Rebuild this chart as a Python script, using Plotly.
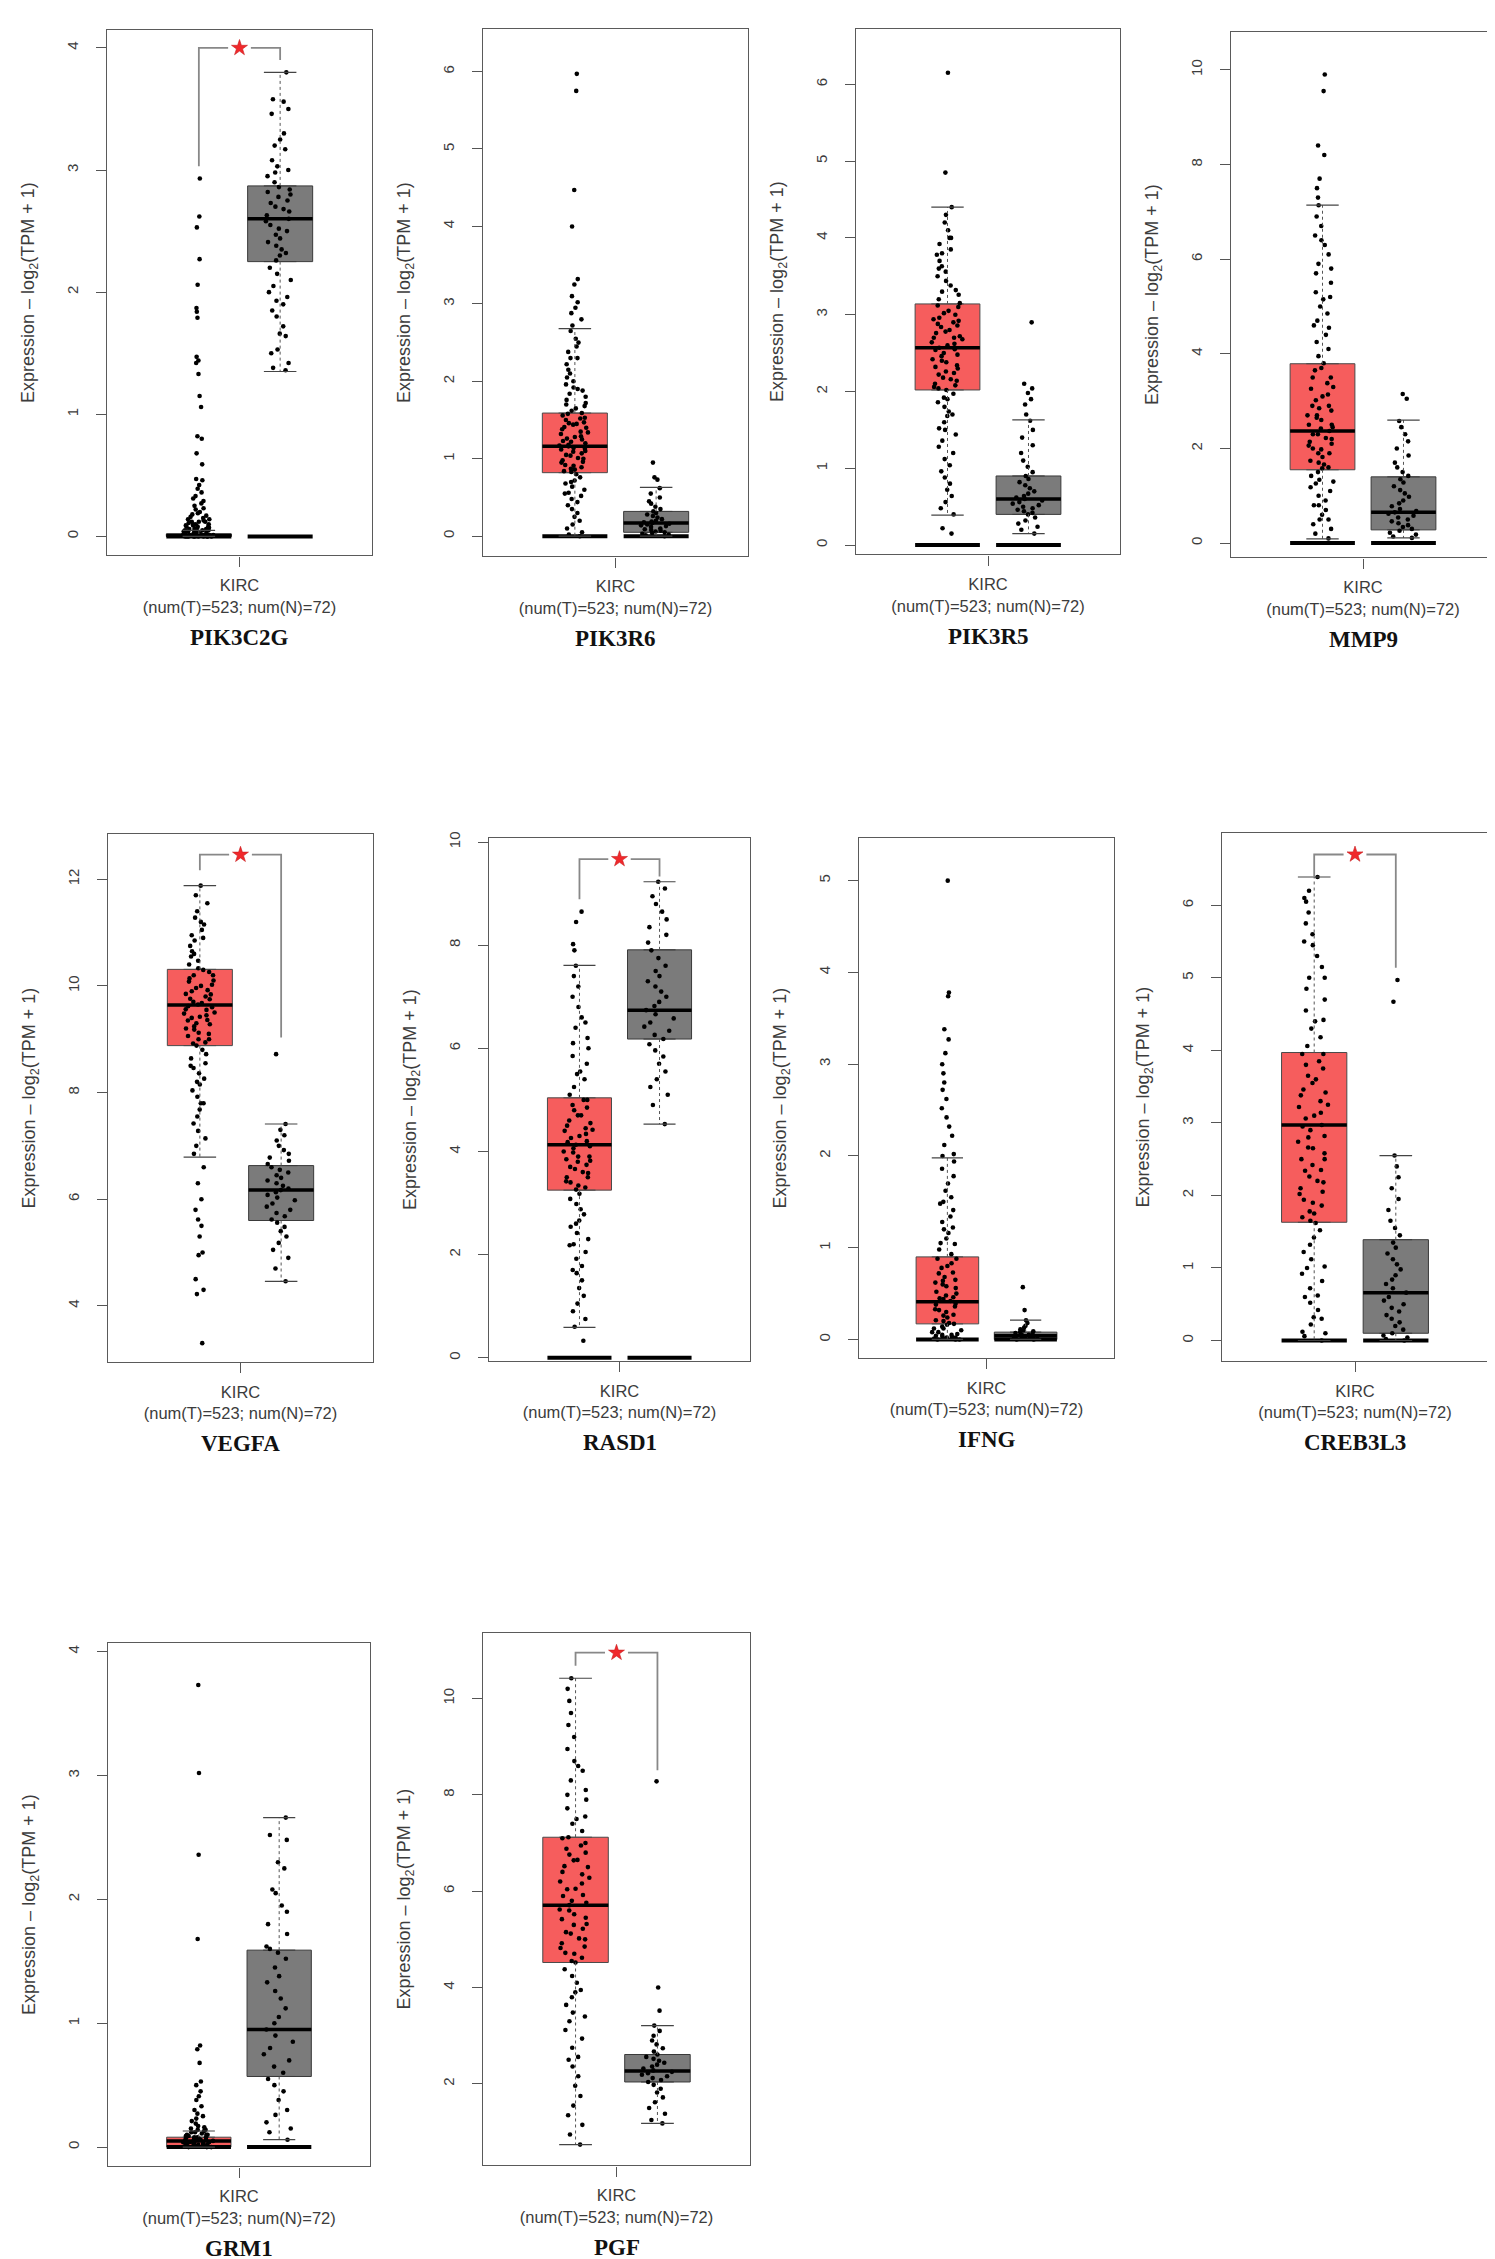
import plotly.graph_objects as go

# --- DATA ---
genes = ["PIK3C2G", "PIK3R6", "PIK3R5", "MMP9", "VEGFA",
         "RASD1", "IFNG", "CREB3L3", "GRM1", "PGF"]
x_label = "KIRC<br>(num(T)=523; num(N)=72)"

# y-axis ranges and ticks per panel
y_ranges = [[-0.155, 4.147], [-0.26, 6.55], [-0.12, 6.72], [-0.3, 10.8], [2.95, 12.84],
            [-0.06, 10.07], [-0.2, 5.46], [-0.28, 6.99], [-0.155, 4.07], [0.31, 11.36]]
y_ticks = [[0, 1, 2, 3, 4], [0, 1, 2, 3, 4, 5, 6], [0, 1, 2, 3, 4, 5, 6], [0, 2, 4, 6, 8, 10],
           [4, 6, 8, 10, 12], [0, 2, 4, 6, 8, 10], [0, 1, 2, 3, 4, 5], [0, 1, 2, 3, 4, 5, 6],
           [0, 1, 2, 3, 4], [2, 4, 6, 8, 10]]

# tumour (T) box stats
t_q1 = [0.0, 0.82, 2.02, 1.55, 8.88, 3.25, 0.17, 1.63, 0.0, 4.52]
t_med = [0.01, 1.16, 2.57, 2.37, 9.64, 4.13, 0.41, 2.97, 0.05, 5.71]
t_q3 = [0.02, 1.59, 3.14, 3.79, 10.31, 5.04, 0.90, 3.97, 0.08, 7.12]
t_lo = [0.0, 0.0, 0.39, 0.09, 6.79, 0.59, 0.0, 0.0, 0.0, 0.74]
t_hi = [0.05, 2.68, 4.40, 7.14, 11.88, 7.61, 1.98, 6.39, 0.13, 10.42]

# normal (N) box stats
n_q1 = [2.25, 0.05, 0.40, 0.28, 5.60, 6.18, 0.0, 0.10, 0.57, 2.04]
n_med = [2.60, 0.17, 0.60, 0.65, 6.17, 6.74, 0.04, 0.66, 0.95, 2.27]
n_q3 = [2.87, 0.32, 0.90, 1.40, 6.63, 7.91, 0.08, 1.39, 1.59, 2.61]
n_lo = [1.35, 0.0, 0.15, 0.11, 4.46, 4.53, 0.0, 0.0, 0.06, 1.18]
n_hi = [3.80, 0.63, 1.63, 2.60, 7.41, 9.23, 0.21, 2.55, 2.66, 3.21]

# dark bar drawn at zero under both groups
zero_bar = [1, 1, 1, 1, 0, 1, 1, 1, 1, 0]

# significance bracket: top, T-side end, N-side end (None = not significant)
sig_top = [4.0, None, None, None, 12.46, 9.67, None, 6.70, None, 10.95]
sig_t = [3.03, None, None, None, 12.17, 8.89, None, 6.39, None, 10.68]
sig_n = [3.90, None, None, None, 9.03, 9.33, None, 5.14, None, 8.51]

# jittered sample points
t_points = [
    [2.93, 2.62, 2.53, 2.27, 2.06, 1.87, 1.84, 1.79, 1.47, 1.44, 1.42, 1.33, 1.15, 1.06, 0.82, 0.80,
     0.68, 0.59, 0.47, 0.46, 0.42, 0.39, 0.36, 0.33, 0.31, 0.29, 0.27, 0.25, 0.23, 0.22, 0.20, 0.19,
     0.18, 0.17, 0.16, 0.15, 0.14, 0.13, 0.12, 0.12, 0.11, 0.10, 0.10, 0.09, 0.09, 0.08, 0.08, 0.07,
     0.07, 0.06, 0.06, 0.05, 0.05, 0.05, 0.04, 0.04, 0.04, 0.03, 0.03, 0.03, 0.02, 0.02, 0.02, 0.02,
     0.01, 0.01, 0.01, 0.01, 0, 0, 0, 0, 0, 0, 0, 0, 0, 0, 0.01, 0.02, 0.03, 0.05, 0.06, 0.08, 0.10,
     0.12, 0.14, 0.04, 0.02, 0.01],
    [5.97, 5.75, 4.47, 4.00, 3.32, 3.25, 3.10, 3.02, 2.95, 2.88, 2.80, 2.72, 2.65, 2.55, 2.45, 2.38,
     2.30, 2.22, 2.15, 2.10, 2.05, 2.00, 1.96, 1.92, 1.88, 1.84, 1.80, 1.76, 1.72, 1.68, 1.65, 1.62,
     1.59, 1.56, 1.53, 1.50, 1.47, 1.44, 1.41, 1.38, 1.35, 1.32, 1.29, 1.26, 1.23, 1.20, 1.18, 1.16,
     1.14, 1.12, 1.10, 1.07, 1.04, 1.01, 0.98, 0.95, 0.92, 0.89, 0.86, 0.83, 0.80, 0.76, 0.72, 0.68,
     0.64, 0.60, 0.56, 0.52, 0.48, 0.44, 0.40, 0.35, 0.30, 0.25, 0.20, 0.15, 0.10, 0.05, 0.02, 0,
     1.58, 1.52, 1.46, 1.40, 1.34, 1.28, 1.22, 1.17, 1.13, 1.09, 1.05, 1.00, 0.96, 0.91, 0.87, 0.84,
     1.90, 1.70, 2.30, 2.50, 0.70, 0.55, 1.25, 1.45],
    [6.15, 4.85, 4.40, 4.30, 4.20, 4.10, 4.00, 3.92, 3.85, 3.78, 3.70, 3.63, 3.56, 3.50, 3.44, 3.38,
     3.32, 3.26, 3.20, 3.15, 3.10, 3.05, 3.00, 2.96, 2.92, 2.88, 2.84, 2.80, 2.76, 2.72, 2.68, 2.64,
     2.60, 2.57, 2.54, 2.50, 2.46, 2.42, 2.38, 2.34, 2.30, 2.26, 2.22, 2.18, 2.14, 2.10, 2.06, 2.02,
     1.97, 1.92, 1.86, 1.80, 1.74, 1.68, 1.60, 1.52, 1.44, 1.36, 1.28, 1.20, 1.12, 1.04, 0.96, 0.88,
     0.80, 0.72, 0.64, 0.56, 0.48, 0.40, 0.22, 0.15, 3.12, 3.02, 2.94, 2.86, 2.78, 2.70, 2.62, 2.55,
     2.48, 2.40, 2.32, 2.24, 2.16, 2.08, 2.04, 3.60, 3.80, 4.00, 3.30, 1.50, 1.70, 1.90, 2.90, 2.70],
    [9.90, 9.55, 8.40, 8.20, 7.70, 7.50, 7.30, 7.14, 6.90, 6.70, 6.50, 6.30, 6.10, 5.90, 5.70, 5.50,
     5.30, 5.15, 5.00, 4.85, 4.70, 4.55, 4.40, 4.25, 4.10, 3.95, 3.80, 3.65, 3.50, 3.38, 3.26, 3.14,
     3.02, 2.90, 2.80, 2.70, 2.60, 2.50, 2.42, 2.37, 2.30, 2.22, 2.14, 2.06, 1.98, 1.90, 1.82, 1.74,
     1.66, 1.58, 1.50, 1.42, 1.34, 1.26, 1.18, 1.10, 1.00, 0.90, 0.80, 0.70, 0.60, 0.50, 0.40, 0.30,
     0.20, 0.10, 3.70, 3.50, 3.30, 3.10, 2.90, 2.70, 2.50, 2.30, 2.10, 1.90, 1.70, 1.60, 2.45, 2.20,
     2.00, 4.60, 5.20, 5.80, 6.40, 1.30, 0.80, 0.50, 2.65, 2.85],
    [11.88, 11.70, 11.55, 11.40, 11.28, 11.15, 11.05, 10.95, 10.85, 10.75, 10.65, 10.55, 10.47, 10.40,
     10.33, 10.26, 10.20, 10.14, 10.08, 10.02, 9.96, 9.90, 9.85, 9.80, 9.75, 9.70, 9.65, 9.60, 9.55,
     9.50, 9.45, 9.40, 9.35, 9.30, 9.24, 9.18, 9.12, 9.06, 9.00, 8.94, 8.88, 8.80, 8.72, 8.64, 8.55,
     8.46, 8.36, 8.26, 8.15, 8.04, 7.92, 7.80, 7.68, 7.55, 7.42, 7.28, 7.14, 7.00, 6.85, 6.60, 6.30,
     6.00, 5.80, 5.62, 5.50, 5.30, 5.00, 4.95, 4.50, 4.30, 4.22, 3.30, 10.30, 10.20, 10.10, 10.00,
     9.92, 9.84, 9.76, 9.68, 9.62, 9.56, 9.48, 9.42, 9.36, 9.28, 9.20, 9.10, 9.00, 8.92, 10.60, 10.90,
     11.20, 8.50, 8.20, 7.80],
    [8.65, 8.45, 8.02, 7.90, 7.60, 7.40, 7.20, 7.00, 6.80, 6.60, 6.40, 6.20, 6.00, 5.85, 5.70, 5.55,
     5.40, 5.25, 5.10, 5.00, 4.90, 4.80, 4.70, 4.60, 4.50, 4.42, 4.34, 4.26, 4.18, 4.13, 4.06, 3.98,
     3.90, 3.82, 3.74, 3.66, 3.58, 3.50, 3.42, 3.34, 3.26, 3.18, 3.08, 2.98, 2.88, 2.78, 2.66, 2.54,
     2.42, 2.30, 2.18, 2.05, 1.92, 1.78, 1.64, 1.50, 1.35, 1.20, 1.05, 0.90, 0.75, 0.60, 0.33,
     5.00, 4.85, 4.70, 4.55, 4.40, 4.30, 4.20, 4.10, 4.00, 3.90, 3.80, 3.70, 3.60, 3.50, 3.40, 3.30,
     5.50, 6.10, 6.50, 2.60, 2.20, 1.70, 4.45, 3.85],
    [5.00, 3.78, 3.74, 3.38, 3.27, 3.12, 3.00, 2.90, 2.80, 2.72, 2.62, 2.52, 2.42, 2.32, 2.22, 2.12,
     2.02, 1.94, 1.86, 1.78, 1.70, 1.62, 1.55, 1.48, 1.41, 1.34, 1.28, 1.22, 1.16, 1.10, 1.04, 0.98,
     0.93, 0.88, 0.83, 0.78, 0.73, 0.68, 0.64, 0.60, 0.56, 0.52, 0.48, 0.45, 0.42, 0.39, 0.36, 0.33,
     0.30, 0.27, 0.24, 0.21, 0.18, 0.16, 0.14, 0.12, 0.10, 0.08, 0.06, 0.05, 0.04, 0.03, 0.02, 0.01,
     0, 0, 0, 0.88, 0.80, 0.72, 0.65, 0.58, 0.50, 0.44, 0.38, 0.32, 0.26, 0.20, 0.17, 0.12, 0.08,
     0.05, 0.03, 1.05, 1.20, 1.50, 2.00, 0.02, 0.01, 0.46, 0.62],
    [6.39, 6.20, 6.05, 5.90, 5.75, 5.60, 5.45, 5.30, 5.15, 5.00, 4.85, 4.70, 4.55, 4.42, 4.30, 4.18,
     4.06, 3.95, 3.85, 3.75, 3.65, 3.55, 3.46, 3.38, 3.30, 3.22, 3.14, 3.06, 2.97, 2.90, 2.82, 2.74,
     2.66, 2.58, 2.50, 2.42, 2.34, 2.26, 2.18, 2.10, 2.02, 1.94, 1.86, 1.78, 1.70, 1.62, 1.52, 1.42,
     1.32, 1.22, 1.12, 1.02, 0.92, 0.82, 0.72, 0.62, 0.52, 0.42, 0.32, 0.22, 0.12, 0.06, 0,
     3.95, 3.80, 3.60, 3.42, 3.25, 3.10, 2.95, 2.80, 2.65, 2.50, 2.35, 2.20, 2.05, 1.90, 1.75, 1.65,
     4.40, 5.00, 5.50, 6.10, 1.00, 0.60, 0.30, 0.10],
    [3.73, 3.02, 2.36, 1.68, 0.82, 0.79, 0.68, 0.53, 0.50, 0.45, 0.41, 0.38, 0.33, 0.30, 0.27, 0.25,
     0.23, 0.21, 0.19, 0.17, 0.16, 0.15, 0.14, 0.13, 0.12, 0.11, 0.10, 0.10, 0.09, 0.09, 0.08, 0.08,
     0.07, 0.07, 0.06, 0.06, 0.05, 0.05, 0.04, 0.04, 0.03, 0.03, 0.02, 0.02, 0.01, 0.01, 0, 0, 0,
     0.02, 0.03, 0.04, 0.05, 0.06, 0.07, 0.08, 0.10, 0.12, 0.14, 0.03, 0.05],
    [10.42, 10.20, 9.95, 9.70, 9.45, 9.20, 8.95, 8.70, 8.50, 8.30, 8.10, 7.90, 7.72, 7.55, 7.40, 7.25,
     7.12, 7.00, 6.88, 6.76, 6.64, 6.52, 6.40, 6.28, 6.16, 6.04, 5.92, 5.80, 5.71, 5.62, 5.52, 5.42,
     5.32, 5.22, 5.12, 5.02, 4.92, 4.82, 4.72, 4.62, 4.52, 4.38, 4.24, 4.10, 3.95, 3.80, 3.64, 3.48,
     3.30, 3.12, 2.94, 2.75, 2.56, 2.36, 2.16, 1.96, 1.75, 1.55, 1.35, 1.15, 0.95, 0.74,
     7.10, 6.95, 6.80, 6.65, 6.50, 6.35, 6.20, 6.05, 5.90, 5.76, 5.60, 5.45, 5.30, 5.15, 5.00, 4.85,
     4.70, 4.55, 7.50, 8.00, 8.60, 3.90, 3.40, 2.50],
]
n_points = [
    [3.80, 3.58, 3.56, 3.50, 3.46, 3.30, 3.25, 3.20, 3.17, 3.08, 3.03, 3.00, 2.98, 2.95, 2.90, 2.86,
     2.84, 2.82, 2.80, 2.78, 2.75, 2.73, 2.70, 2.68, 2.66, 2.63, 2.60, 2.58, 2.55, 2.52, 2.50, 2.47,
     2.44, 2.41, 2.38, 2.35, 2.32, 2.30, 2.26, 2.20, 2.15, 2.10, 2.05, 2.00, 1.96, 1.93, 1.90, 1.85,
     1.80, 1.72, 1.66, 1.64, 1.53, 1.50, 1.42, 1.38, 1.36],
    [0.95, 0.76, 0.73, 0.62, 0.55, 0.50, 0.45, 0.42, 0.38, 0.35, 0.32, 0.30, 0.28, 0.26, 0.24, 0.22,
     0.20, 0.19, 0.18, 0.17, 0.16, 0.15, 0.14, 0.13, 0.12, 0.10, 0.09, 0.08, 0.07, 0.06, 0.05, 0.04,
     0.03, 0.02, 0.01, 0],
    [2.90, 2.10, 2.04, 1.98, 1.90, 1.83, 1.70, 1.62, 1.50, 1.40, 1.30, 1.20, 1.10, 1.02, 0.95, 0.90,
     0.86, 0.82, 0.78, 0.74, 0.70, 0.67, 0.64, 0.62, 0.60, 0.58, 0.56, 0.54, 0.52, 0.50, 0.48, 0.46,
     0.44, 0.42, 0.40, 0.36, 0.32, 0.28, 0.24, 0.20, 0.15],
    [3.15, 3.05, 2.58, 2.45, 2.30, 2.15, 2.00, 1.85, 1.70, 1.60, 1.50, 1.42, 1.35, 1.28, 1.20, 1.12,
     1.05, 0.98, 0.90, 0.84, 0.78, 0.72, 0.68, 0.65, 0.62, 0.58, 0.54, 0.50, 0.46, 0.42, 0.38, 0.34,
     0.30, 0.26, 0.22, 0.18, 0.14, 0.11],
    [8.72, 7.41, 7.30, 7.20, 7.10, 7.00, 6.92, 6.85, 6.78, 6.72, 6.66, 6.60, 6.55, 6.50, 6.45, 6.40,
     6.35, 6.30, 6.25, 6.20, 6.17, 6.13, 6.08, 6.03, 5.98, 5.92, 5.86, 5.80, 5.74, 5.68, 5.62, 5.56,
     5.48, 5.40, 5.30, 5.18, 5.05, 4.90, 4.70, 4.46],
    [9.23, 9.10, 8.95, 8.80, 8.65, 8.50, 8.35, 8.20, 8.05, 7.90, 7.75, 7.60, 7.50, 7.40, 7.30, 7.20,
     7.10, 7.00, 6.90, 6.82, 6.74, 6.66, 6.58, 6.50, 6.42, 6.34, 6.26, 6.18, 6.08, 5.96, 5.84, 5.70,
     5.55, 5.40, 5.25, 5.10, 4.90, 4.53],
    [0.57, 0.32, 0.21, 0.18, 0.15, 0.13, 0.11, 0.10, 0.09, 0.08, 0.07, 0.06, 0.05, 0.05, 0.04, 0.04,
     0.03, 0.03, 0.02, 0.02, 0.01, 0.01, 0, 0],
    [4.97, 4.67, 2.55, 2.40, 2.25, 2.10, 1.95, 1.80, 1.65, 1.55, 1.45, 1.35, 1.28, 1.20, 1.12, 1.05,
     0.98, 0.90, 0.84, 0.78, 0.72, 0.66, 0.60, 0.55, 0.50, 0.45, 0.40, 0.35, 0.30, 0.25, 0.20, 0.15,
     0.10, 0.07, 0.04, 0.02, 0],
    [2.66, 2.52, 2.48, 2.30, 2.25, 2.08, 2.05, 1.95, 1.90, 1.80, 1.72, 1.62, 1.60, 1.57, 1.52, 1.45,
     1.38, 1.33, 1.26, 1.20, 1.12, 1.05, 1.00, 0.95, 0.90, 0.85, 0.80, 0.75, 0.70, 0.65, 0.60, 0.55,
     0.50, 0.45, 0.38, 0.30, 0.26, 0.20, 0.15, 0.12, 0.06],
    [8.28, 4.00, 3.52, 3.21, 3.10, 3.00, 2.90, 2.82, 2.74, 2.67, 2.61, 2.56, 2.52, 2.48, 2.44, 2.40,
     2.36, 2.32, 2.28, 2.25, 2.22, 2.19, 2.16, 2.12, 2.08, 2.04, 1.98, 1.90, 1.82, 1.72, 1.62, 1.50,
     1.38, 1.25, 1.18],
]

# --- LAYOUT (pixel frames of each panel: left, right, top, bottom) ---
W, H = 1495, 2259
frames = [(99, 364, 15, 542), (475, 740, 14, 543), (848, 1112, 14, 541), (1223, 1487, 17, 544),
          (100, 365, 822, 1351), (481, 742, 826, 1350), (851, 1106, 826, 1347), (1214, 1480, 821, 1350),
          (100, 362, 1633, 2158), (475, 742, 1623, 2157)]

T_POS, N_POS = 1, 2
BOX_W, CAP_W = 0.8, 0.4
RED, GREY = "#F65D5D", "#7B7B7B"
TXT = "#3c3c3c"
SANS = "Liberation Sans, Arial, sans-serif"

fig = go.Figure()
layout = {}
annotations = []


def stat_box(pos, q1, med, q3, lo, hi, fill, line_w, line_c, xa, ya):
    return go.Box(x=[pos], q1=[q1], median=[med], q3=[q3], lowerfence=[lo], upperfence=[hi],
                  width=BOX_W, whiskerwidth=0.5, fillcolor=fill, line=dict(color=line_c, width=line_w),
                  boxpoints=False, xaxis=xa, yaxis=ya, hoverinfo="skip", showlegend=False)


def whiskers(pos, q1, q3, lo, hi, xa, ya):
    # R-style dotted whisker stems with solid caps
    stems = go.Scatter(x=[pos, pos, None, pos, pos], y=[q3, hi, None, q1, lo], mode="lines",
                       line=dict(color="#555", width=1, dash="dot"),
                       xaxis=xa, yaxis=ya, hoverinfo="skip", showlegend=False)
    caps = go.Scatter(x=[pos - CAP_W / 2, pos + CAP_W / 2, None, pos - CAP_W / 2, pos + CAP_W / 2],
                      y=[hi, hi, None, lo, lo], mode="lines", line=dict(color="#444", width=1.2),
                      xaxis=xa, yaxis=ya, hoverinfo="skip", showlegend=False)
    return [stems, caps]


def point_cloud(pos, pts, xa, ya):
    return go.Box(x0=pos, y=pts, boxpoints="all", jitter=0.5, pointpos=0, width=BOX_W,
                  fillcolor="rgba(0,0,0,0)", line=dict(color="rgba(0,0,0,0)", width=0),
                  marker=dict(size=4.6, color="black"), xaxis=xa, yaxis=ya,
                  hoverinfo="y", showlegend=False)


for i, gene in enumerate(genes):
    k = i + 1
    xa, ya = ("x", "y") if k == 1 else (f"x{k}", f"y{k}")
    left, right, top, bottom = frames[i]

    layout[f"xaxis{'' if k == 1 else k}"] = dict(
        domain=[left / W, right / W], range=[-0.13, 3.13], anchor=ya,
        tickvals=[1.5], ticktext=[x_label], ticks="outside", ticklen=10, tickcolor="#555",
        ticklabelstandoff=5,
        showline=True, mirror=True, linecolor="#5a5a5a", linewidth=1.4, showgrid=False,
        zeroline=False, tickfont=dict(family=SANS, size=16.5, color=TXT), fixedrange=True)
    layout[f"yaxis{'' if k == 1 else k}"] = dict(
        domain=[1 - bottom / H, 1 - top / H], range=y_ranges[i], anchor=xa,
        tickvals=y_ticks[i], ticks="outside", ticklen=10, tickcolor="#555", tickangle=-90,
        ticklabelstandoff=12,
        showline=True, mirror=True, linecolor="#5a5a5a", linewidth=1.4, showgrid=False,
        zeroline=False, tickfont=dict(family=SANS, size=15, color=TXT),
        title=dict(text="Expression \u2013 log<sub>2</sub>(TPM + 1)",
                   font=dict(family=SANS, size=18, color=TXT), standoff=24),
        fixedrange=True)

    # boxes (no built-in whiskers)
    fig.add_trace(stat_box(T_POS, t_q1[i], t_med[i], t_q3[i], t_q1[i], t_q3[i], RED, 1, "#4a4a4a", xa, ya))
    fig.add_trace(stat_box(N_POS, n_q1[i], n_med[i], n_q3[i], n_q1[i], n_q3[i], GREY, 1, "#3a3a3a", xa, ya))

    # whiskers
    for tr in whiskers(T_POS, t_q1[i], t_q3[i], t_lo[i], t_hi[i], xa, ya):
        fig.add_trace(tr)
    for tr in whiskers(N_POS, n_q1[i], n_q3[i], n_lo[i], n_hi[i], xa, ya):
        fig.add_trace(tr)

    # jittered samples
    fig.add_trace(point_cloud(T_POS, t_points[i], xa, ya))
    fig.add_trace(point_cloud(N_POS, n_points[i], xa, ya))

    # thick median lines
    for pos, m in ((T_POS, t_med[i]), (N_POS, n_med[i])):
        fig.add_trace(stat_box(pos, m, m, m, m, m, "rgba(0,0,0,0)", 3.5, "black", xa, ya))

    # dense zero bar
    if zero_bar[i]:
        for pos in (T_POS, N_POS):
            fig.add_trace(stat_box(pos, 0, 0, 0, 0, 0, "rgba(0,0,0,0)", 4, "black", xa, ya))

    # significance bracket
    if sig_top[i] is not None:
        gap = 0.14
        mid = (T_POS + N_POS) / 2
        fig.add_trace(go.Scatter(x=[T_POS, T_POS, mid - gap], y=[sig_t[i], sig_top[i], sig_top[i]],
                                 mode="lines", line=dict(color="#888", width=1.8),
                                 xaxis=xa, yaxis=ya, hoverinfo="skip", showlegend=False))
        fig.add_trace(go.Scatter(x=[mid + gap, N_POS, N_POS], y=[sig_top[i], sig_top[i], sig_n[i]],
                                 mode="lines", line=dict(color="#888", width=1.8),
                                 xaxis=xa, yaxis=ya, hoverinfo="skip", showlegend=False))
        fig.add_trace(go.Scatter(x=[mid], y=[sig_top[i]], mode="markers",
                                 marker=dict(symbol="star", size=12, color="#F0282B",
                                             line=dict(color="#C81E20", width=0.6)),
                                 xaxis=xa, yaxis=ya, hoverinfo="skip", showlegend=False))

    # gene name under panel
    annotations.append(dict(text=f"<b>{gene}</b>", x=(left + right) / 2 / W, y=1 - (bottom + 82) / H,
                            xref="paper", yref="paper", showarrow=False, xanchor="center", yanchor="middle",
                            font=dict(family="Liberation Serif, Times New Roman, serif", size=23, color="#111")))

fig.update_layout(**layout)
fig.update_layout(
    width=W, height=H,
    margin=dict(l=0, r=0, t=0, b=0),
    paper_bgcolor="white", plot_bgcolor="white",
    boxmode="overlay", showlegend=False,
    annotations=annotations,
)

fig.write_html("out.html", config={"displayModeBar": False})
